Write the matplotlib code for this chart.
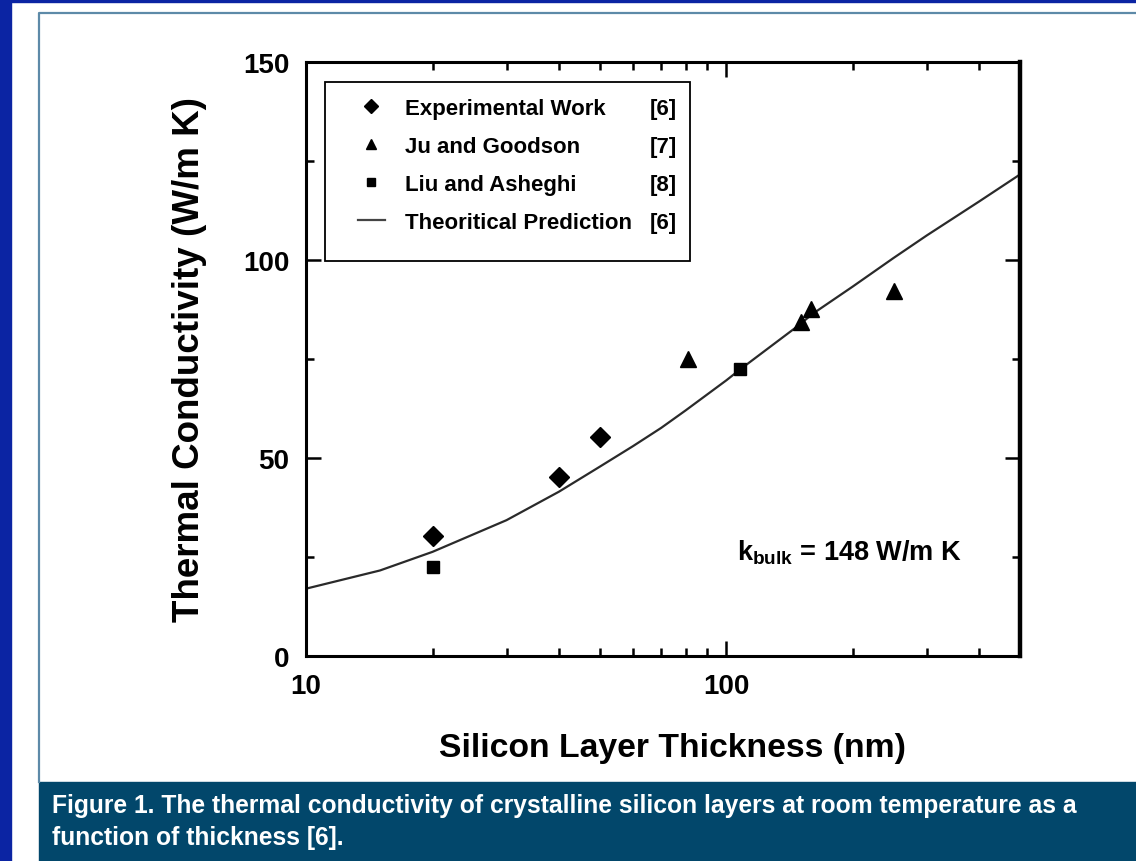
import matplotlib
matplotlib.use("Agg")
import matplotlib.pyplot as plt
from matplotlib.patches import Rectangle
from matplotlib.lines import Line2D
from matplotlib.ticker import LogLocator, NullFormatter, FixedLocator

plt.rcParams['font.family'] = ['Liberation Sans', 'DejaVu Sans']

# data
exp_x = [20, 40, 50]
exp_y = [30.3, 45.2, 55.3]
ju_x = [81, 151, 159, 251]
ju_y = [75.0, 84.3, 87.6, 92.2]
liu_x = [20, 108]
liu_y = [22.4, 72.5]
theory_x = [10, 15, 20, 30, 40, 50, 60, 70, 80, 100, 108, 150, 160, 200, 250, 300, 400, 500]
theory_y = [17.0, 21.6, 26.3, 34.3, 41.5, 47.8, 53.0, 57.6, 62.0, 69.6, 72.4,
            83.8, 86.3, 93.3, 100.5, 106.2, 114.8, 121.6]

legend_labels = ['Experimental Work', 'Ju and Goodson', 'Liu and Asheghi', 'Theoritical Prediction']
legend_refs = ['[6]', '[7]', '[8]', '[6]']

W, H = 1136, 862
fig = plt.figure(figsize=(W / 100, H / 100), dpi=100)
fig.patch.set_facecolor('white')

# page decoration: blue border, thin frame, caption box
fig.patches.append(Rectangle((0, 0), 11 / W, 1, transform=fig.transFigure, color='#0b24a3', zorder=0))
fig.patches.append(Rectangle((0, 1 - 3 / H), 1, 3 / H, transform=fig.transFigure, color='#0b24a3', zorder=0))
fig.lines.append(Line2D([39 / W, 39 / W, 1], [(H - 783) / H, 1 - 14 / H, 1 - 14 / H],
                        transform=fig.transFigure, color='#5d8aa8', lw=1.6))
fig.patches.append(Rectangle((39 / W, 0), 1, (H - 783) / H, transform=fig.transFigure,
                             color='#02476b', zorder=0))
fig.text(52 / W, 1 - 806 / H, 'Figure 1. The thermal conductivity of crystalline silicon layers at room temperature as a',
         color='white', fontsize=17.7, fontweight='bold', va='center', ha='left')
fig.text(52 / W, 1 - 838 / H, 'function of thickness [6].',
         color='white', fontsize=17.7, fontweight='bold', va='center', ha='left')

ax = fig.add_axes([306 / W, 1 - 657 / H, 714 / W, 594 / H])

ax.plot(theory_x, theory_y, color='#2a2a2a', lw=1.6, zorder=2)
ax.plot(exp_x, exp_y, linestyle='none', marker='D', ms=10, color='black', zorder=3)
ax.plot(ju_x, ju_y, linestyle='none', marker='^', ms=11, color='black', zorder=3)
ax.plot(liu_x, liu_y, linestyle='none', marker='s', ms=9, color='black', zorder=3)

ax.set_xscale('log')
ax.set_xlim(10, 500)
ax.set_ylim(0, 150)

ax.xaxis.set_major_locator(FixedLocator([10, 100]))
ax.set_xticklabels(['10', '100'])
ax.xaxis.set_minor_locator(LogLocator(base=10, subs=[2, 3, 4, 5, 6, 7, 8, 9]))
ax.xaxis.set_minor_formatter(NullFormatter())
ax.set_yticks([0, 50, 100, 150])
ax.set_yticks([25, 75, 125], minor=True)

ax.tick_params(which='both', direction='in', top=True, right=True, width=1.8, colors='black')
ax.tick_params(which='major', length=11)
ax.tick_params(which='minor', length=6)
ax.tick_params(axis='x', which='major', pad=12, labelsize=20)
ax.tick_params(axis='y', which='major', pad=12, labelsize=20)
for lab in ax.get_xticklabels() + ax.get_yticklabels():
    lab.set_fontweight('bold')

for side in ['left', 'bottom', 'top']:
    ax.spines[side].set_linewidth(2.2)
ax.spines['right'].set_linewidth(3.2)

fig.text(672 / W, 1 - 748 / H, 'Silicon Layer Thickness (nm)', fontsize=24.3, fontweight='bold',
         ha='center', va='center')
fig.text(190 / W, 1 - 360 / H, 'Thermal Conductivity (W/m K)', fontsize=26.5, fontweight='bold',
         ha='center', va='center', rotation=90)

ax.text(0.604, 0.163, r'k$_{\mathregular{bulk}}$ = 148 W/m K', transform=ax.transAxes,
        fontsize=19.5, fontweight='bold', ha='left', va='baseline')

# legend
handles = [
    Line2D([], [], linestyle='none', marker='D', ms=7, color='black'),
    Line2D([], [], linestyle='none', marker='^', ms=7, color='black'),
    Line2D([], [], linestyle='none', marker='s', ms=6, color='black'),
    Line2D([], [], color='#444444', lw=1.6),
]
frame = Rectangle((19 / 714, 1 - (262 - 63) / 594), (690 - 325) / 714, (262 - 83) / 594,
                  transform=ax.transAxes, fill=True, facecolor='white', edgecolor='black', lw=1.3, zorder=4)
ax.add_patch(frame)
leg = ax.legend(handles, legend_labels, loc='upper left', bbox_to_anchor=(52 / 714, 1 - 36 / 594),
                frameon=False, fontsize=16, handlelength=1.2, handletextpad=0.9,
                labelspacing=0.76, borderaxespad=0, borderpad=0)
leg.set_zorder(5)
for t in leg.get_texts():
    t.set_fontweight('bold')

fig.canvas.draw()
inv = ax.transAxes.inverted()
for t, ref in zip(leg.get_texts(), legend_refs):
    bb = t.get_window_extent()
    yc = inv.transform(((bb.x0 + bb.x1) / 2, (bb.y0 + bb.y1) / 2))[1]
    ax.text((650 - 306) / 714, yc, ref, transform=ax.transAxes, fontsize=16, fontweight='bold',
            ha='left', va='center', zorder=6)

fig.savefig('out.png', dpi=100, facecolor='white')
